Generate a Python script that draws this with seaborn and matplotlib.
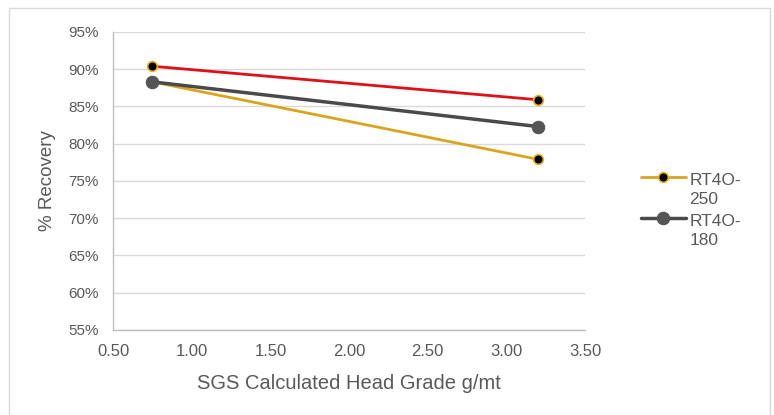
import matplotlib
matplotlib.use("Agg")
import matplotlib.pyplot as plt
import seaborn as sns
import pandas as pd
from matplotlib.patches import Rectangle
from matplotlib.ticker import PercentFormatter
from matplotlib.legend_handler import HandlerLine2D

# head grade (g/mt) and recovery (%)
head_grade = [0.75, 3.20]
rec_red = [90.4, 85.9]
rec_250 = [88.3, 77.9]
rec_180 = [88.3, 82.3]


class TopLineHandler(HandlerLine2D):
    # put the legend line next to the first text line, like Excel does
    def create_artists(self, legend, orig_handle, xdescent, ydescent,
                       width, height, fontsize, trans):
        return super().create_artists(legend, orig_handle, xdescent,
                                      ydescent - 1.5 * fontsize, width, height,
                                      fontsize, trans)


sns.set_theme(style="white")
plt.rcParams["font.family"] = ["Liberation Sans", "DejaVu Sans"]
txt = "#595959"

fig = plt.figure(figsize=(7.74, 4.15), dpi=100)
ax = fig.add_axes([0.146, 0.205, 0.61, 0.718])

fig.patches.append(Rectangle((0.011, -0.02), 0.984, 1.0, transform=fig.transFigure,
                             fill=False, edgecolor="#d9d9d9", linewidth=1))

df_red = pd.DataFrame({"x": head_grade, "y": rec_red})
df_250 = pd.DataFrame({"x": head_grade, "y": rec_250})
df_180 = pd.DataFrame({"x": head_grade, "y": rec_180})

sns.lineplot(data=df_red, x="x", y="y", ax=ax, color="#e0101a", linewidth=2,
             marker="o", markersize=7, markerfacecolor="black",
             markeredgecolor="#e3b12c", markeredgewidth=1.2, zorder=4)
sns.lineplot(data=df_250, x="x", y="y", ax=ax, color="#d9a520", linewidth=2,
             marker="o", markersize=7, markerfacecolor="black",
             markeredgecolor="#e3b12c", markeredgewidth=1.2, zorder=3,
             label="RT4O-\n250")
sns.lineplot(data=df_180, x="x", y="y", ax=ax, color="#4a4a4a", linewidth=2.5,
             marker="o", markersize=9, markerfacecolor="#555555",
             markeredgecolor="#555555", zorder=3, label="RT4O-\n180")

ax.set_xlim(0.5, 3.5)
ax.set_ylim(55, 95)
ax.set_xticks([0.5, 1.0, 1.5, 2.0, 2.5, 3.0, 3.5])
ax.set_xticklabels([f"{v:.2f}" for v in ax.get_xticks()])
ax.set_yticks(range(55, 96, 5))
ax.yaxis.set_major_formatter(PercentFormatter(decimals=0))
ax.grid(axis="y", color="#d9d9d9", linewidth=1)
ax.set_axisbelow(True)

for s in ["top", "right"]:
    ax.spines[s].set_visible(False)
for s in ["left", "bottom"]:
    ax.spines[s].set_color("#bfbfbf")
    ax.spines[s].set_linewidth(1)

ax.tick_params(axis="x", colors=txt, labelsize=12, length=0, pad=10)
ax.tick_params(axis="y", colors=txt, labelsize=11, length=0, pad=10)
ax.set_xlabel("SGS Calculated Head Grade g/mt", color=txt, fontsize=14.5, labelpad=11)
ax.set_ylabel("% Recovery", color=txt, fontsize=13.5, labelpad=9)

handles, labels = ax.get_legend_handles_labels()
leg = ax.legend(handles, labels, loc="center left", bbox_to_anchor=(1.085, 0.40),
                frameon=False, fontsize=12.5, labelcolor=txt, handlelength=2.6,
                handletextpad=0.2, labelspacing=0.4,
                handler_map={h: TopLineHandler() for h in handles})
for t in leg.get_texts():
    t.set_linespacing(1.35)

fig.savefig("out.png", dpi=100)
